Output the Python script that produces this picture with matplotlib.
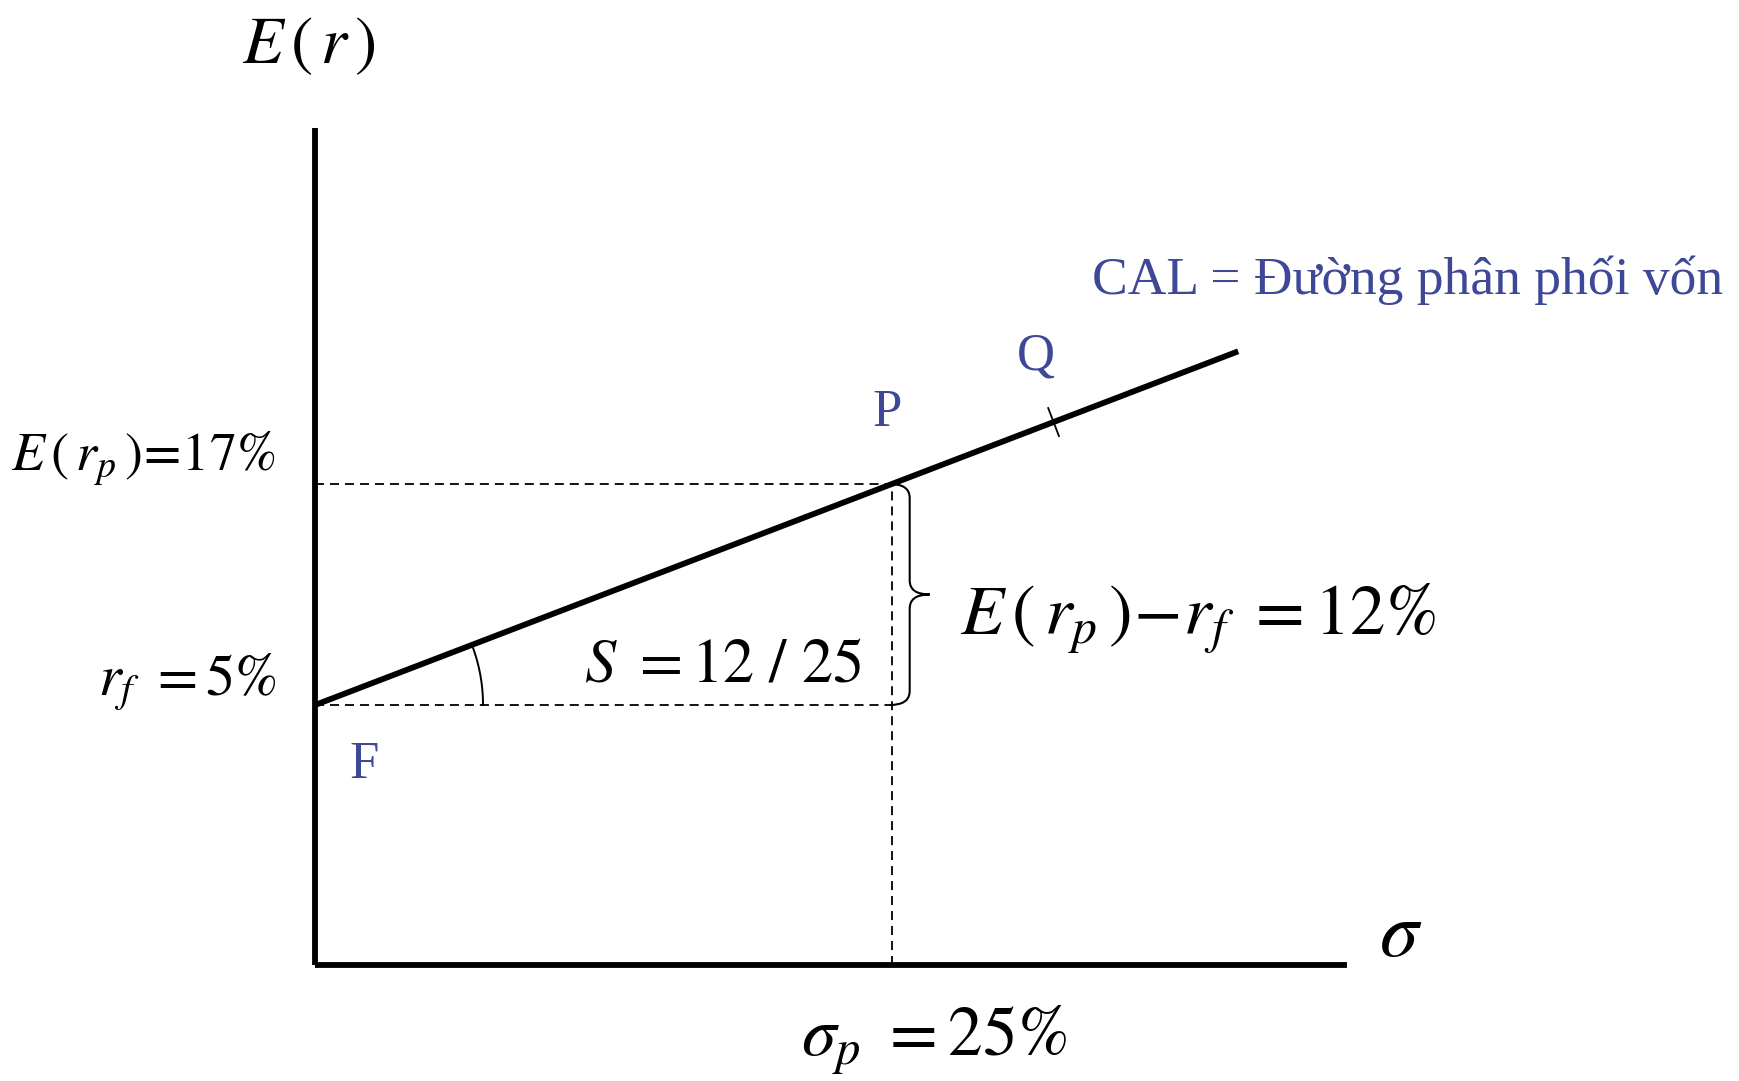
import numpy as np
import matplotlib
matplotlib.use("Agg")
import matplotlib.pyplot as plt
from matplotlib.path import Path
from matplotlib.patches import PathPatch

plt.rcParams['mathtext.fontset'] = 'stix'
plt.rcParams['font.family'] = ['Liberation Serif', 'DejaVu Serif']

# values (in %)
r_f = 5
sigma_p = 25
E_rp = 17
sigma_q = 32
sigma_end = 40
slope = (E_rp - r_f) / sigma_p

# axes frame of the sketch (not to scale)
x_axis_end = 44.7
y_axis_top = 36.3
y_axis_at = -9.1

label_blue = '#3f4897'

fig = plt.figure(figsize=(17.39, 10.81), dpi=100)
ax = fig.add_axes([0, 0, 1, 1])
ax.set_xlim(-13.65, 61.70)
ax.set_ylim(-15.41, 43.27)
ax.axis('off')

# pixels per data unit, used for shapes that should look round on screen
sx = 1739 / (61.70 + 13.65)
sy = 1081 / (43.27 + 15.41)

# axes
ax.plot([0, 0], [y_axis_at, y_axis_top], color='black', lw=4.2, solid_capstyle='butt')
ax.plot([0, x_axis_end], [y_axis_at, y_axis_at], color='black', lw=4.2, solid_capstyle='butt')

# CAL
cal_x = np.array([0, sigma_end])
cal_y = r_f + slope * cal_x
ax.plot(cal_x, cal_y, color='black', lw=4.2, solid_capstyle='butt')

# dashed guides
dash = (0, (5, 3.3))
ax.plot([0, sigma_p], [E_rp, E_rp], color='black', lw=1.3, linestyle=dash)
ax.plot([0, sigma_p], [r_f, r_f], color='black', lw=1.3, linestyle=dash)
ax.plot([sigma_p, sigma_p], [y_axis_at, E_rp], color='black', lw=1.3, linestyle=dash)

# tick mark on the line at Q
ang = np.arctan2(slope * sy, sx)
tl = 15
qx, qy = sigma_q, r_f + slope * sigma_q
ax.plot([qx - tl * np.sin(ang) / sx, qx + tl * np.sin(ang) / sx],
        [qy + tl * np.cos(ang) / sy, qy - tl * np.cos(ang) / sy],
        color='black', lw=1.3)

# angle arc at F
rad = 168
t = np.linspace(0, ang, 40)
ax.plot(rad * np.cos(t) / sx, r_f + rad * np.sin(t) / sy, color='black', lw=1.4)

# brace between r_f and E(r_p)
x0 = sigma_p - 0.1
dx1, dx2, dy = 20 / sx, 40 / sx, 14 / sy
ymid = (E_rp + r_f) / 2
verts = [(x0, E_rp), (x0 + dx1, E_rp), (x0 + dx1, E_rp - dy),
         (x0 + dx1, ymid + dy),
         (x0 + dx1, ymid), (x0 + dx2, ymid),
         (x0 + dx1, ymid), (x0 + dx1, ymid - dy),
         (x0 + dx1, r_f + dy),
         (x0 + dx1, r_f), (x0, r_f)]
codes = [Path.MOVETO, Path.CURVE3, Path.CURVE3, Path.LINETO,
         Path.CURVE3, Path.CURVE3, Path.CURVE3, Path.CURVE3,
         Path.LINETO, Path.CURVE3, Path.CURVE3]
ax.add_patch(PathPatch(Path(verts, codes), fill=False, lw=1.5, edgecolor='black'))

# text
ax.text(-3.16, 39.85, r'$E\,(\,r\,)$', fontsize=48, va='baseline', ha='left')
ax.text(-1.73, 17.7, r'$E\,(\,r_p\,)\!=\!17\%$', fontsize=39, va='baseline', ha='right')
ax.text(-1.65, 5.53, r'$r_f\ =5\%$', fontsize=42, va='baseline', ha='right')
ax.text(11.65, 6.3, r'$S\ =12\ /\ 25$', fontsize=45, va='baseline', ha='left')
ax.text(27.95, 8.8, r'$E\,(\,r_p\,)\!-\!r_f\ =12\%$', fontsize=51, va='baseline', ha='left')
ax.text(21.06, -14.05, r'$\sigma_p\ =25\%$', fontsize=50, va='baseline', ha='left')
ax.text(46.1, -8.6, r'$\sigma$', fontsize=56, va='baseline', ha='left')

ax.text(33.67, 27.3, 'CAL = Đường phân phối vốn', fontsize=38.5, color=label_blue,
        va='baseline', ha='left')
ax.text(2.12, 1.74, 'F', fontsize=38, color=label_blue, ha='center', va='center')
ax.text(24.78, 20.85, 'P', fontsize=38, color=label_blue, ha='center', va='center')
ax.text(31.24, 23.9, 'Q', fontsize=38, color=label_blue, ha='center', va='center')

fig.savefig('out.png', dpi=100)
